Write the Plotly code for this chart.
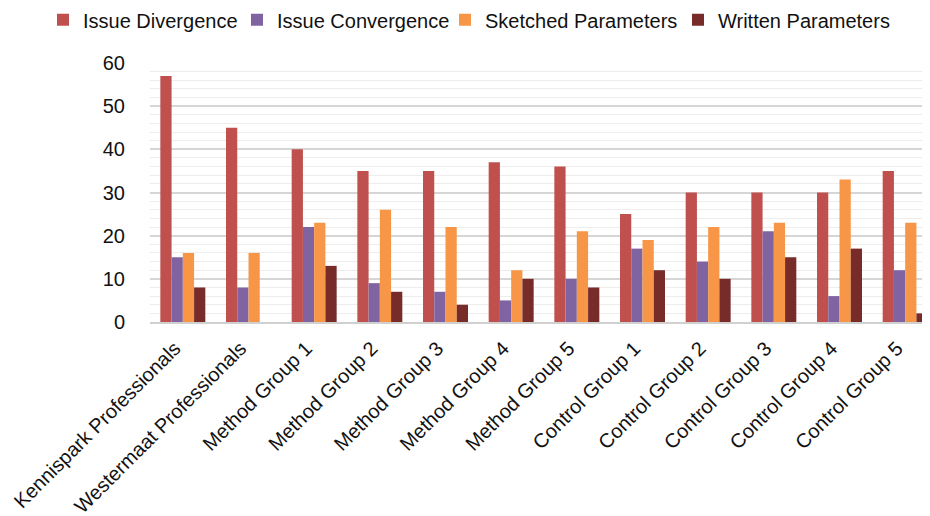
import plotly.graph_objects as go

categories = ["Kennispark Professionals", "Westermaat Professionals", "Method Group 1",
              "Method Group 2", "Method Group 3", "Method Group 4", "Method Group 5",
              "Control Group 1", "Control Group 2", "Control Group 3", "Control Group 4",
              "Control Group 5"]
issue_divergence = [57, 45, 40, 35, 35, 37, 36, 25, 30, 30, 30, 35]
issue_convergence = [15, 8, 22, 9, 7, 5, 10, 17, 14, 21, 6, 12]
sketched_parameters = [16, 16, 23, 26, 22, 12, 21, 19, 22, 23, 33, 23]
written_parameters = [8, 0, 13, 7, 4, 10, 8, 12, 10, 15, 17, 2]

series = [
    ("Issue Divergence", issue_divergence, "#C0504D"),
    ("Issue Convergence", issue_convergence, "#8064A2"),
    ("Sketched Parameters", sketched_parameters, "#F79646"),
    ("Written Parameters", written_parameters, "#772C2A"),
]
legend_ids = ["legend", "legend2", "legend3", "legend4"]
legend_text_x = [82, 276, 484, 717]  # pixel where each legend label starts

fig = go.Figure()
for (name, vals, col), lid in zip(series, legend_ids):
    fig.add_trace(go.Bar(name=name, x=categories, y=vals, marker_color=col,
                         marker_line_width=0, legend=lid, showlegend=True))

W = 930
legend_layout = {}
for lid, tx in zip(legend_ids, legend_text_x):
    legend_layout[lid] = dict(orientation="h", x=(tx - 47) / W, xref="container",
                              xanchor="left", y=0.977, yref="container",
                              yanchor="middle", font=dict(size=20),
                              bgcolor="rgba(0,0,0,0)", itemwidth=30)

fig.update_layout(
    width=W, height=516, showlegend=True,
    barmode="group", bargap=0.315, bargroupgap=0,
    plot_bgcolor="white", paper_bgcolor="white",
    font=dict(family="Liberation Sans, Arial, sans-serif", color="#111111"),
    margin=dict(l=142, r=0, t=55, b=202, autoexpand=False),
    xaxis=dict(tickangle=-45, tickfont=dict(size=20), showline=True,
               linecolor="#d0d0d0", linewidth=1.5, ticks="", automargin=False,
               ticklabelstandoff=5, ticklabelshift=-8),
    yaxis=dict(range=[0, 60], dtick=10, tickfont=dict(size=20), showgrid=True,
               gridcolor="#d6d6d6", gridwidth=1.5, zeroline=False, ticks="",
               automargin=False, ticklabelstandoff=24,
               minor=dict(dtick=2, showgrid=True, gridcolor="#ededed", gridwidth=1)),
    **legend_layout,
)

fig.write_html("out.html")
